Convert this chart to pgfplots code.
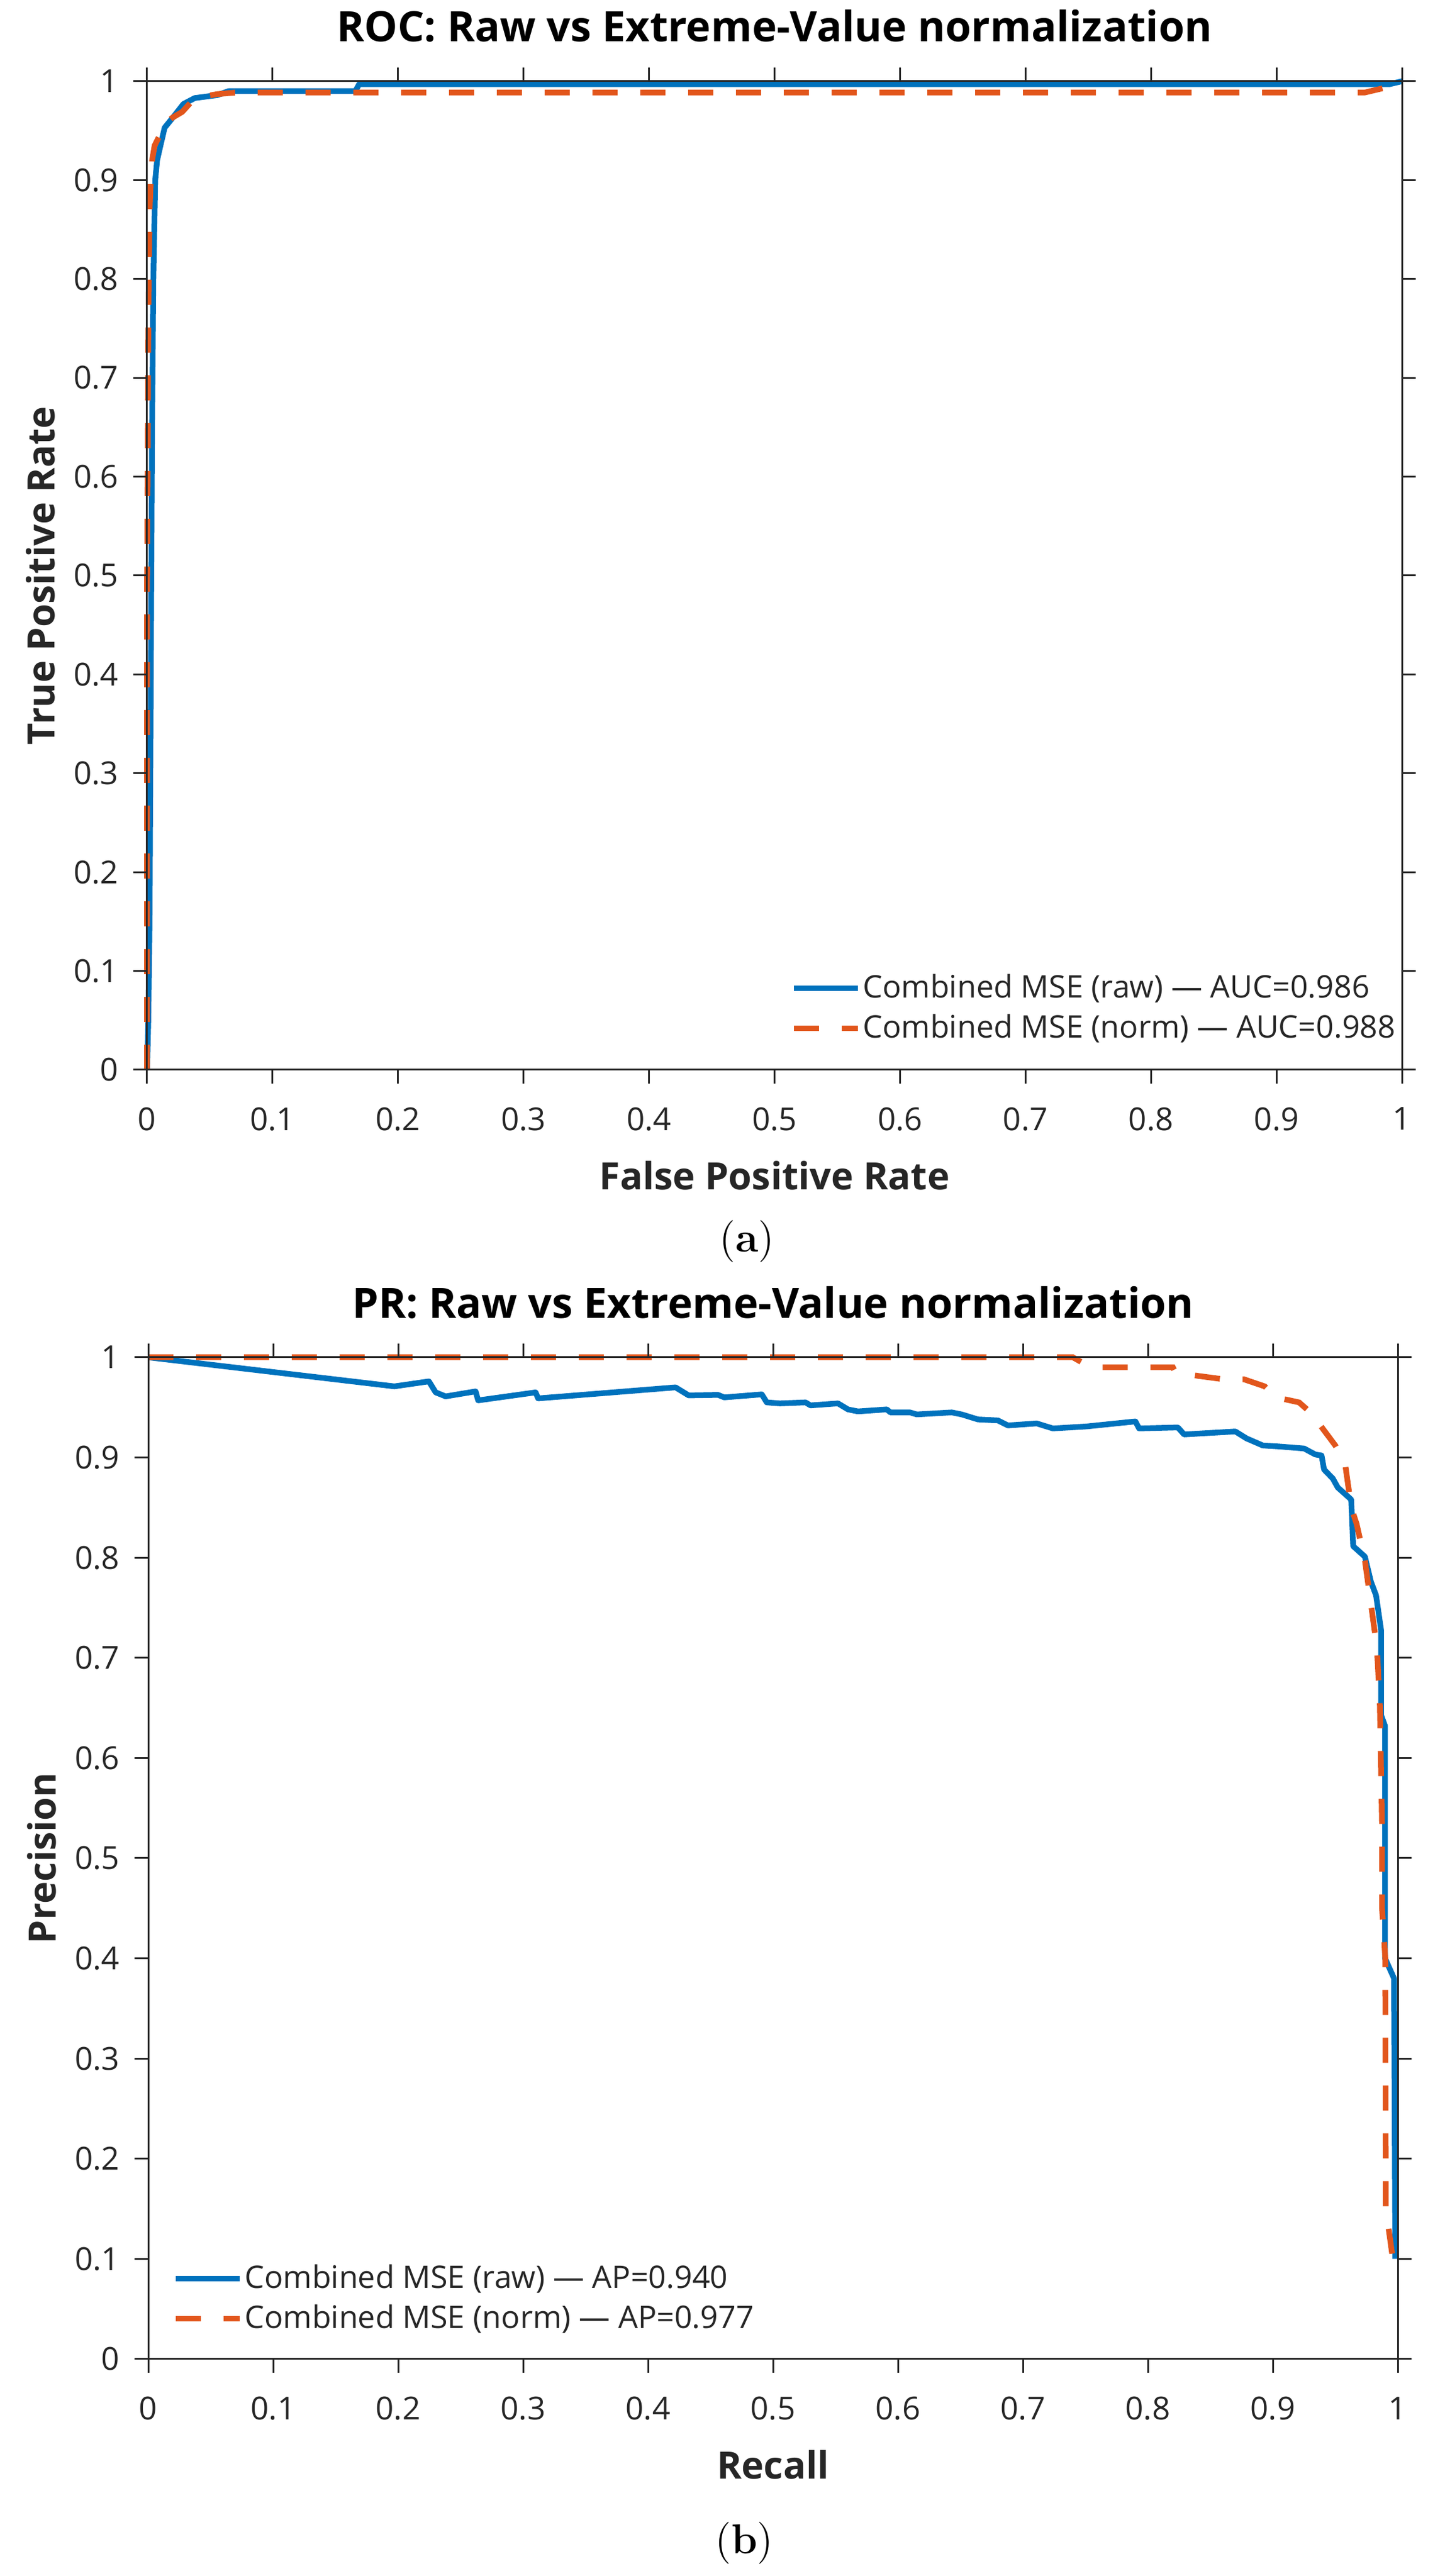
\documentclass[border=0pt]{standalone}
\usepackage{fontspec}
\newfontfamily\noto{Open Sans}
\usepackage{pgfplots}
\pgfplotsset{compat=1.18}
\definecolor{mblue}{HTML}{0072BD}
\definecolor{morange}{HTML}{E2561C}
\definecolor{axgray}{HTML}{262626}
\pgfplotsset{
 mstyle/.style={
  scale only axis,
  xmin=0,xmax=1,ymin=0,ymax=1,
  xtick={0,0.1,0.2,0.3,0.4,0.5,0.6,0.7,0.8,0.9,1},
  ytick={0,0.1,0.2,0.3,0.4,0.5,0.6,0.7,0.8,0.9,1},
  tick align=outside, tick pos=both, major tick length=4.6pt,
  axis line style={axgray, line width=0.6pt},
  tick style={axgray, line width=0.6pt},
  tick label style={font=\noto\fontsize{10.6}{12}\selectfont, text=axgray},
  /pgf/number format/assume math mode=true,
  xticklabel style={yshift=-4.5pt},
  yticklabel style={xshift=-1.5pt},
  clip=false, axis on top,
  title style={font=\noto\bfseries\fontsize{14}{16}\selectfont, anchor=base},
  label style={font=\noto\bfseries\fontsize{12.6}{15}\selectfont, text=axgray},
  legend style={draw=none, fill=none, font=\noto\fontsize{10.4}{12}\selectfont, text=axgray,
    inner xsep=0pt, inner ysep=0pt, nodes={inner xsep=0.8pt, inner ysep=2pt}, cells={anchor=west}},
  legend cell align=left,
  legend image code/.code={\draw[##1] (0pt,0pt) -- (21.4pt,0pt);},
 },
 rawline/.style={mblue, line width=1.9pt, line join=round},
 normline/.style={morange, line width=1.9pt, dash pattern=on 8.4pt off 7.6pt},
}
\begin{document}
\begin{tikzpicture}
\useasboundingbox (0,0) rectangle (483.4pt,862pt);
% ---------------- (a) ROC ----------------
\begin{axis}[mstyle, at={(49.2pt,504pt)}, anchor=south west, width=419.8pt, height=330.8pt,
  title={ROC: Raw vs Extreme-Value normalization},
  title style={at={(rel axis cs:0.5,1.0218)}},
  xlabel={False Positive Rate}, ylabel={True Positive Rate},
  xlabel style={at={(rel axis cs:0.5,-0.1212)}, anchor=base},
  ylabel style={at={(rel axis cs:-0.0734,0.5)}, anchor=base},
  legend style={at={(rel axis cs:0.5126,0.1034)}, anchor=north west}]
\addplot[rawline] coordinates {
(0,0) (0.001,0.05) (0.002,0.15) (0.003,0.4) (0.004,0.65) (0.005,0.8) (0.0065,0.9)
(0.008,0.92) (0.0105,0.934) (0.014,0.953) (0.021,0.964) (0.029,0.977) (0.038,0.983)
(0.056,0.986) (0.065,0.99) (0.166,0.99) (0.169,0.997) (0.99,0.997) (1,1)};
\addlegendentry{Combined MSE (raw) — AUC=0.986}
\addplot[normline] coordinates {
(0,0) (0,0.5) (0.001,0.75) (0.002,0.87) (0.003,0.9) (0.004,0.92) (0.006,0.935)
(0.01,0.945) (0.014,0.957) (0.02,0.963) (0.028,0.969) (0.038,0.983) (0.056,0.987)
(0.07,0.9885) (0.97,0.9885) (0.985,0.993) (1,1)};
\addlegendentry{Combined MSE (norm) — AUC=0.988}
\node[font=\fontsize{14}{16}\selectfont] at (rel axis cs:0.478,-0.1735) {(\textbf{a})};
\end{axis}
% ---------------- (b) PR ----------------
\begin{axis}[mstyle, at={(49.6pt,72.6pt)}, anchor=south west, width=418pt, height=335.2pt,
  title={PR: Raw vs Extreme-Value normalization},
  title style={at={(rel axis cs:0.5,1.0209)}},
  xlabel={Recall}, ylabel={Precision},
  xlabel style={at={(rel axis cs:0.5,-0.1196)}, anchor=base},
  ylabel style={at={(rel axis cs:-0.0737,0.5)}, anchor=base},
  legend style={at={(rel axis cs:0.0191,0.1008)}, anchor=north west}]
\addplot[rawline] coordinates {
(0,1) (0.197,0.971) (0.2246,0.976) (0.23,0.965) (0.238,0.961) (0.262,0.966) (0.264,0.957)
(0.31,0.965) (0.312,0.959) (0.422,0.970) (0.4325,0.962) (0.456,0.9625) (0.461,0.960)
(0.491,0.963) (0.495,0.955) (0.5055,0.954) (0.526,0.955) (0.530,0.952) (0.552,0.954)
(0.560,0.948) (0.568,0.946) (0.591,0.948) (0.594,0.945) (0.6096,0.945) (0.615,0.943)
(0.643,0.945) (0.651,0.943) (0.664,0.938) (0.680,0.937) (0.688,0.932) (0.711,0.934)
(0.724,0.929) (0.751,0.931) (0.790,0.936) (0.793,0.929) (0.824,0.930) (0.829,0.923)
(0.870,0.926) (0.879,0.919) (0.892,0.912) (0.905,0.911) (0.925,0.909) (0.934,0.903)
(0.939,0.902) (0.941,0.888) (0.948,0.879) (0.952,0.870) (0.961,0.860) (0.9627,0.858)
(0.9643,0.8115) (0.9737,0.801) (0.9785,0.776) (0.9826,0.7625) (0.9866,0.728)
(0.9866,0.643) (0.9898,0.632) (0.9898,0.40) (0.997,0.38) (0.998,0.10)};
\addlegendentry{Combined MSE (raw) — AP=0.940}
\addplot[normline] coordinates {
(0,1) (0.74,1) (0.75,0.993) (0.76,0.99) (0.82,0.99) (0.822,0.985) (0.84,0.9815)
(0.861,0.978) (0.877,0.978) (0.8935,0.971) (0.9027,0.96) (0.921,0.955) (0.931,0.944)
(0.941,0.927) (0.950,0.912) (0.9577,0.895) (0.9603,0.872) (0.963,0.849) (0.967,0.834)
(0.9737,0.797) (0.9785,0.754) (0.9833,0.71) (0.9856,0.655) (0.9866,0.59) (0.9874,0.53)
(0.9874,0.45) (0.990,0.40) (0.9904,0.15) (0.9938,0.12) (0.996,0.10)};
\addlegendentry{Combined MSE (norm) — AP=0.977}
\node[font=\fontsize{14}{16}\selectfont] at (rel axis cs:0.477,-0.184) {(\textbf{b})};
\end{axis}
\end{tikzpicture}
\end{document}
